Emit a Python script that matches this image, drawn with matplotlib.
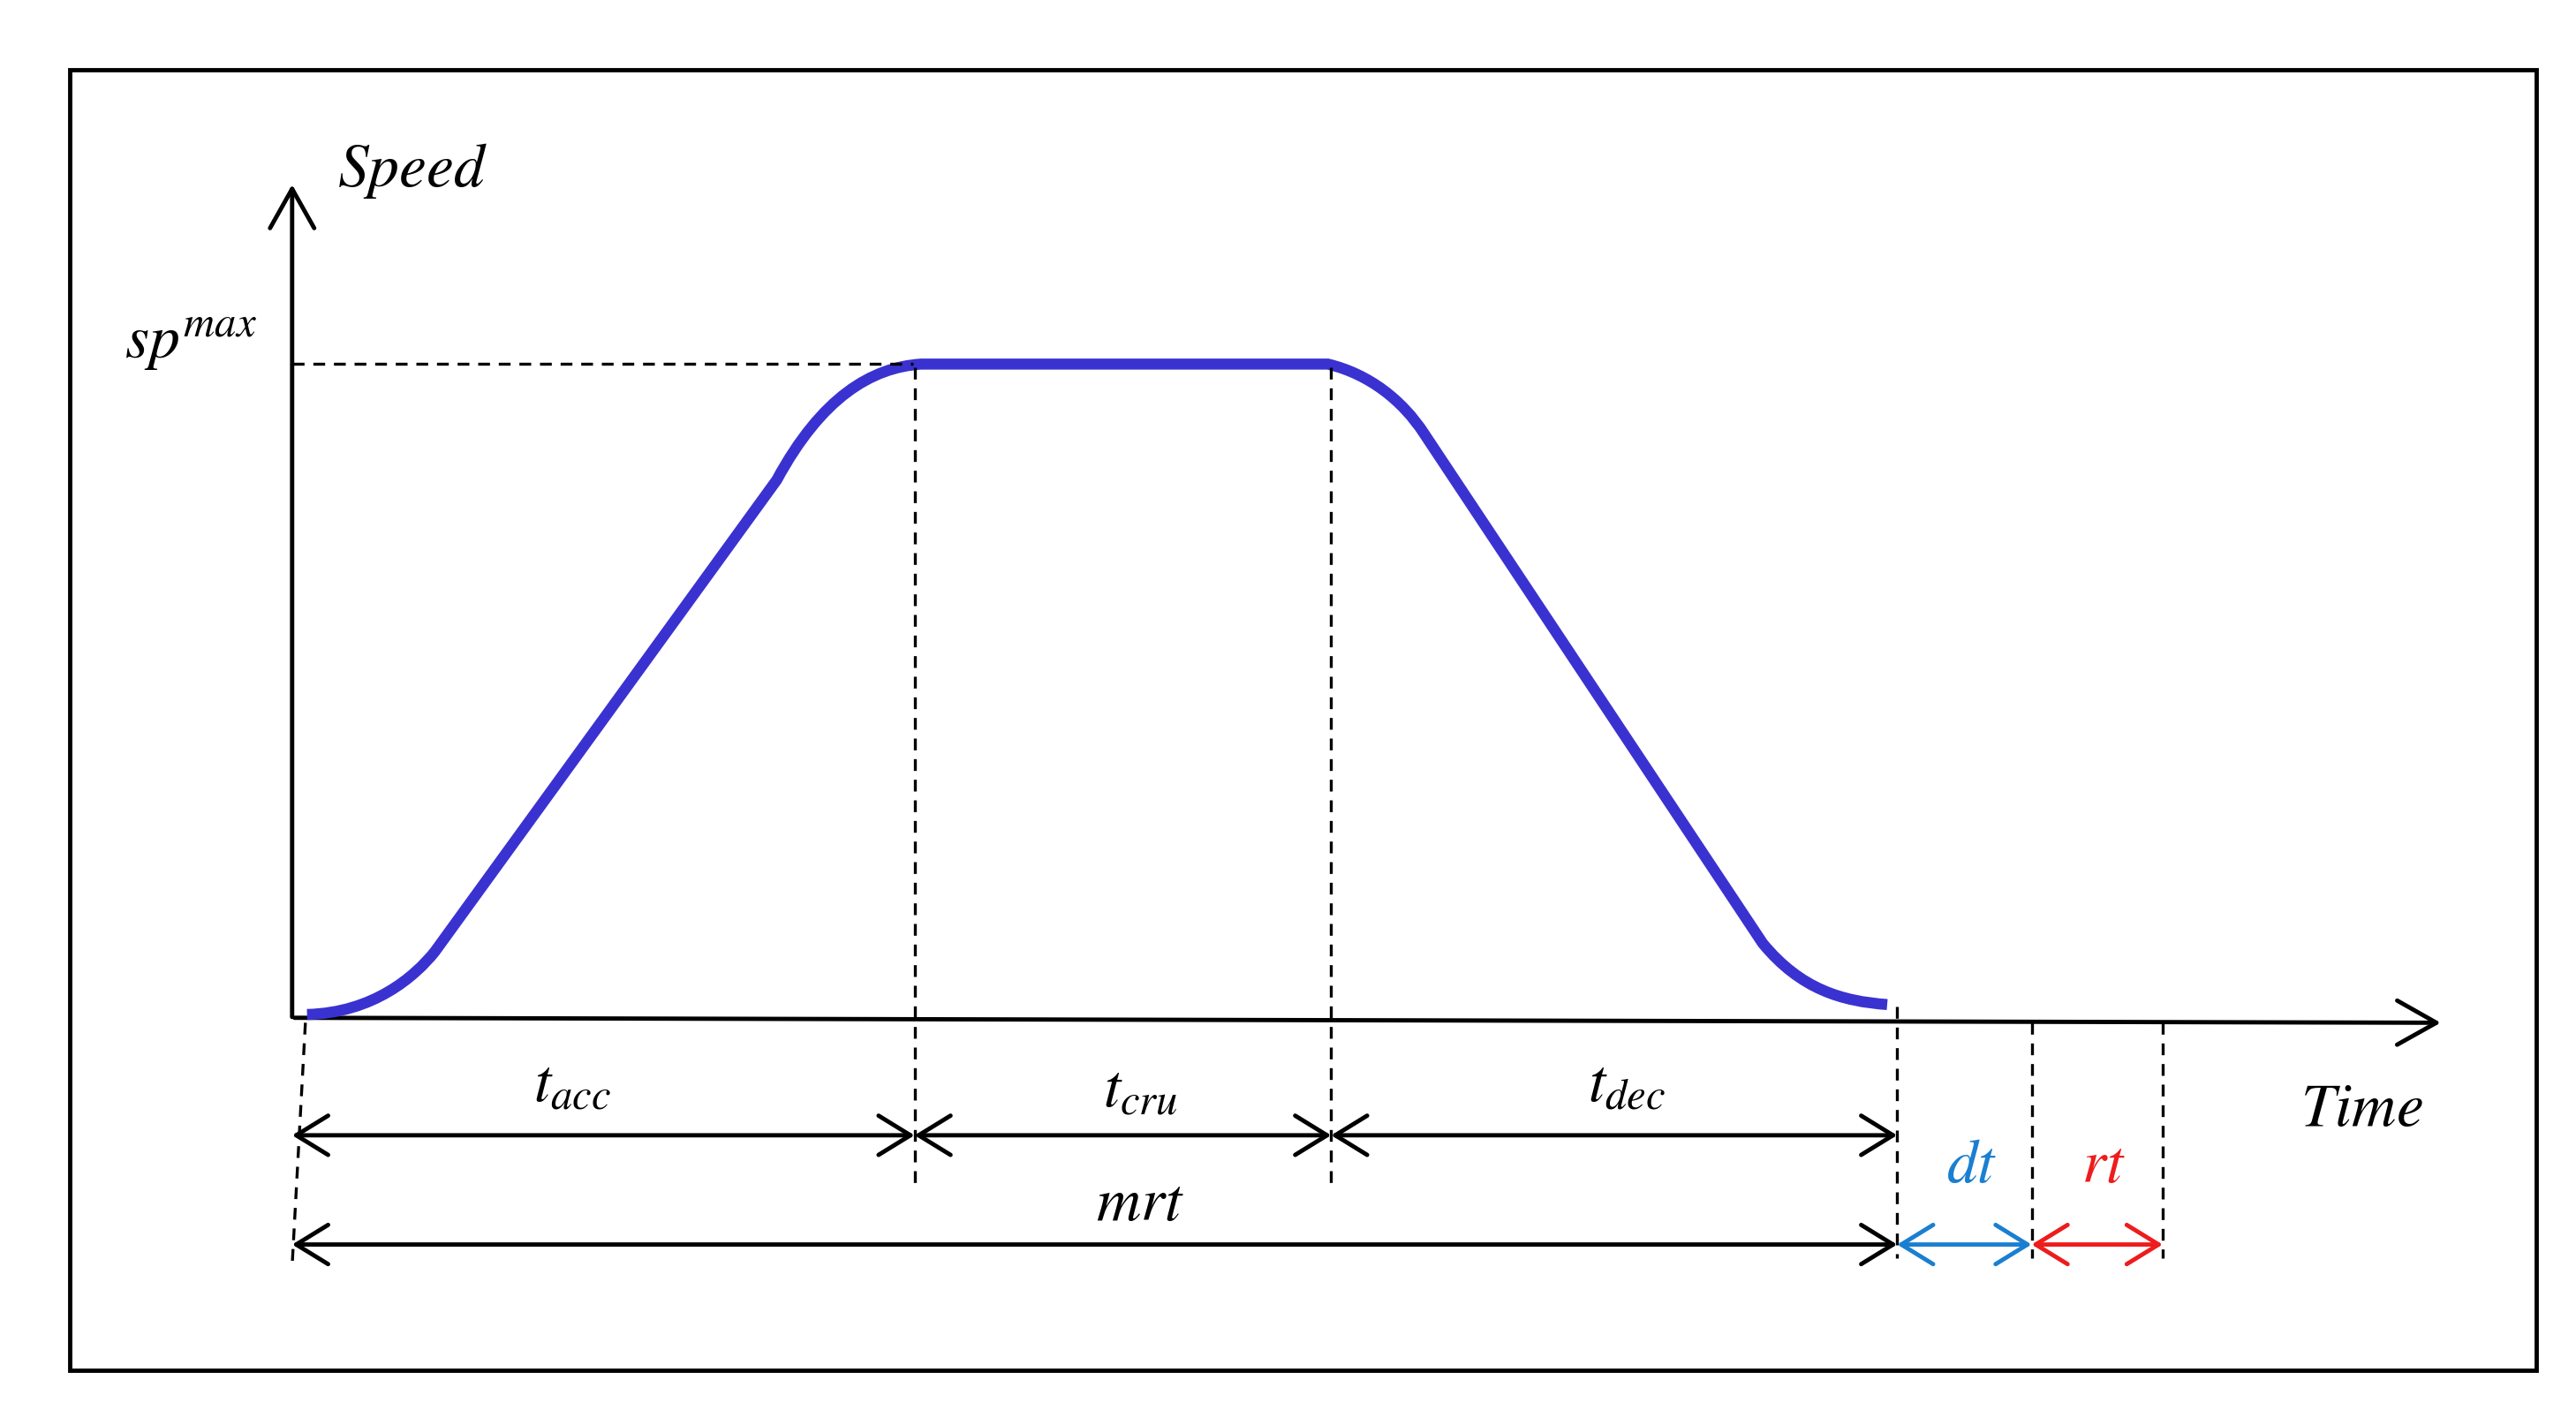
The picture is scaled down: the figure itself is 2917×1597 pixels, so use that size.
import matplotlib
matplotlib.use("Agg")
import matplotlib.pyplot as plt
from matplotlib.path import Path
from matplotlib.patches import PathPatch, FancyArrowPatch, Rectangle

plt.rcParams['mathtext.fontset'] = 'stix'

# Speed profile (reference-image coordinates, y downward), Bezier segments
profile_verts = [(185, 613), (225, 612), (250, 590), (262, 575),
                 (468, 290), (495, 240), (525, 222), (555, 220),
                 (800, 220), (825, 226), (845, 242), (858, 262),
                 (1062, 570), (1085, 598), (1110, 605), (1137, 607)]
profile_codes = [Path.MOVETO, Path.CURVE4, Path.CURVE4, Path.CURVE4,
                 Path.LINETO, Path.CURVE4, Path.CURVE4, Path.CURVE4,
                 Path.LINETO, Path.CURVE4, Path.CURVE4, Path.CURVE4,
                 Path.LINETO, Path.CURVE4, Path.CURVE4, Path.CURVE4]

# phase boundaries on the time axis
bounds = [176, 551, 802, 1143, 1224, 1303]

fig = plt.figure(figsize=(29.17, 15.97), dpi=100)
ax = fig.add_axes([0, 0, 1, 1])
ax.set_xlim(0, 1552)
ax.set_ylim(852, 0)
ax.axis('off')

ax.add_patch(Rectangle((42, 42), 1486, 786, fill=False, lw=3.5, ec='black'))

# axes arrows
ax.add_patch(FancyArrowPatch((176, 616), (176, 110), arrowstyle='->,head_length=1.6,head_width=0.9',
                             lw=3.5, color='black', mutation_scale=20))
ax.add_patch(FancyArrowPatch((176, 615), (1472, 618), arrowstyle='->,head_length=1.6,head_width=0.9',
                             lw=3.5, color='black', mutation_scale=20))

ax.add_patch(PathPatch(Path(profile_verts, profile_codes), fill=False, lw=9, ec='#3a32d0',
                       capstyle='butt'))

dash = dict(color='black', lw=2.4, ls=(0, (4, 3)))
ax.plot([176, 550], [220, 220], **dash)
ax.plot([551, 551], [222, 715], **dash)
ax.plot([802, 802], [222, 715], **dash)
ax.plot([1143, 1143], [608, 760], **dash)
ax.plot([1224, 1224], [618, 760], **dash)
ax.plot([1303, 1303], [618, 760], **dash)
ax.plot([184, 176], [618, 765], **dash)

def darrow(x0, x1, y, c):
    ax.add_patch(FancyArrowPatch((x0, y), (x1, y), arrowstyle='<->,head_length=1.3,head_width=0.8',
                                 lw=3.5, color=c, mutation_scale=20, shrinkA=0, shrinkB=0))

for a, b in zip(bounds[:3], bounds[1:4]):
    darrow(a, b, 686, 'black')
darrow(bounds[0], bounds[3], 752, 'black')
darrow(bounds[3], bounds[4], 752, '#1a7fd0')
darrow(bounds[4], bounds[5], 752, '#ee1c1c')

fs = 50
ax.text(203, 103, r'$\mathit{Speed}$', fontsize=fs, va='center', ha='left')
ax.text(115, 208, r'$\mathit{sp}^{\mathit{max}}$', fontsize=fs, va='center', ha='center')
ax.text(345, 655, r'$\mathit{t}_{\mathit{acc}}$', fontsize=fs, va='center', ha='center')
ax.text(687, 658, r'$\mathit{t}_{\mathit{cru}}$', fontsize=fs, va='center', ha='center')
ax.text(980, 655, r'$\mathit{t}_{\mathit{dec}}$', fontsize=fs, va='center', ha='center')
ax.text(1423, 670, r'$\mathit{Time}$', fontsize=fs, va='center', ha='center')
ax.text(687, 727, r'$\mathit{mrt}$', fontsize=fs, va='center', ha='center')
ax.text(1188, 704, r'$\mathit{dt}$', fontsize=fs, va='center', ha='center', color='#1a7fd0')
ax.text(1267, 704, r'$\mathit{rt}$', fontsize=fs, va='center', ha='center', color='#ee1c1c')

fig.savefig('out.png', dpi=100)
